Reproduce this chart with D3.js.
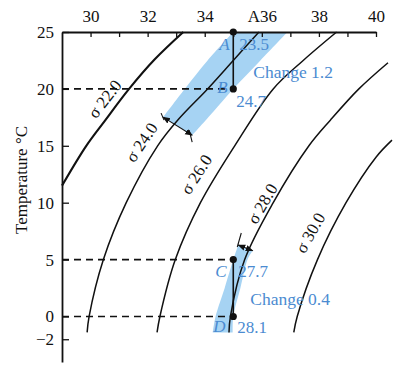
<!DOCTYPE html>
<html lang="en">
<head>
<meta charset="UTF-8">
<title>T-S diagram</title>
<script src="https://cdn.jsdelivr.net/npm/d3@7"></script>
<style>
  body { margin: 0; background: #fff; }
  svg text { font-family: "Liberation Serif", "Times New Roman", "DejaVu Serif", serif; }
</style>
</head>
<body>
<svg id="chart" width="401" height="370" font-family="Liberation Serif, serif"></svg>
<script>
// isopycnals, salinity at each temperature
var sig22S = [29.0, 29.85, 30.5, 31.35, 32.25, 33.25];
var sig22T = [11.5, 15, 17.2, 20, 22.6, 25];
var sig24S = [29.88, 29.95, 30.45, 31.25, 32.35, 33.05, 34.1, 35.0, 35.9];
var sig24T = [-1.4, 0, 5, 10, 15, 17.25, 20, 22.5, 25];
var sig26S = [32.33, 32.43, 32.97, 33.85, 35.05, 36.4, 37.45, 38.62];
var sig26T = [-1.4, 0, 5, 10, 15, 20, 22.5, 25];
var sig28S = [34.85, 34.9, 35.4, 36.4, 37.65, 38.4, 39.4, 40.42];
var sig28T = [-1.4, 0, 5, 10, 15, 17.25, 20, 22.3];
var sig30S = [37.12, 37.24, 37.95, 38.95, 40.0, 40.56];
var sig30T = [-1.4, 0, 5, 10, 14, 15.5];
var sigNames = ["σ 22.0", "σ 24.0", "σ 26.0", "σ 28.0", "σ 30.0"];

// shaded bands between the isopycnals of the two water pairs
var s235S = [32.54, 33.3, 34.1, 35.0];
var s235T = [17.52, 20, 22.5, 25];
var s247S = [33.56, 34.3, 35.0, 35.95, 36.9];
var s247T = [15.93, 18, 20, 22.5, 25];
var s277S = [34.28, 34.38, 34.7, 35.0, 35.175];
var s277T = [-1.4, 0, 2.5, 5, 6.28];
var s281S = [34.98, 35.0, 35.25, 35.5, 35.68];
var s281T = [-1.4, 0, 2.5, 5, 5.78];

// water samples
var ptNames = ["A", "B", "C", "D"];
var ptS = [35, 35, 35, 35];
var ptT = [25, 20, 5, 0];
var ptSigma = ["23.5", "24.7", "27.7", "28.1"];
var changeText = ["Change 1.2", "Change 0.4"];

// width markers across the bands
var dimAB = [[32.54, 17.52], [33.56, 15.93]];
var dimCD = [[35.175, 6.28], [35.68, 5.78]];

// axes
var salTicks = [30, 31, 32, 33, 34, 35, 36, 37, 38, 39, 40];
var salLabelVals = [30, 32, 34, 36, 38, 40];
var salLabelText = ["30", "32", "34", "A36", "38", "40"];
var tempTicks = [25, 20, 15, 10, 5, 0, -2];

var zip = function (a, b) { return a.map(function (v, i) { return [v, b[i]]; }); };
var serif = "Liberation Serif, Times New Roman, serif";

var svg = d3.select("#chart");
svg.append("rect").attr("width", 401).attr("height", 370).attr("fill", "#fff");

var x = d3.scaleLinear().domain([29, 40]).range([62, 376]);
var y = d3.scaleLinear().domain([-4, 25]).range([362, 32]);

var line = d3.line()
    .x(function (d) { return x(d[0]); })
    .y(function (d) { return y(d[1]); })
    .curve(d3.curveCatmullRom.alpha(0.5));

function bandPath(left, right) {
    return line(left) + line(right.slice().reverse()).replace(/^M/, "L") + "Z";
}

var blue = "#4b8bd1";
var bandFill = "#a6d3f3";

// bands
svg.append("path").attr("d", bandPath(zip(s235S, s235T), zip(s247S, s247T))).attr("fill", bandFill);
svg.append("path").attr("d", bandPath(zip(s277S, s277T), zip(s281S, s281T))).attr("fill", bandFill);

// dashed guides from the axis to B, C, D
var guides = [1, 2, 3];
svg.selectAll(".guide").data(guides).enter().append("line")
    .attr("x1", x(29)).attr("x2", function (i) { return x(ptS[i]); })
    .attr("y1", function (i) { return y(ptT[i]); }).attr("y2", function (i) { return y(ptT[i]); })
    .attr("stroke", "#111").attr("stroke-width", 1.6).attr("stroke-dasharray", "7,5");

// isopycnals
var curves = [zip(sig22S, sig22T), zip(sig24S, sig24T), zip(sig26S, sig26T), zip(sig28S, sig28T), zip(sig30S, sig30T)];
svg.selectAll(".iso").data(curves).enter().append("path")
    .attr("d", line).attr("fill", "none").attr("stroke", "#111")
    .attr("stroke-width", function (d, i) { return i === 0 ? 2.1 : 1.5; });

// labels along the curves
var labelAt = [[30.68, 18.76, -52], [31.98, 14.98, -56], [33.9, 12.17, -57], [36.22, 9.62, -60], [37.9, 7.07, -61]];
svg.selectAll(".isoLab").data(sigNames).enter().append("text")
    .attr("transform", function (d, i) {
        return "translate(" + x(labelAt[i][0]) + "," + y(labelAt[i][1]) + ") rotate(" + labelAt[i][2] + ")";
    })
    .attr("text-anchor", "middle").attr("dy", "-0.05em")
    .attr("font-family", serif).attr("font-size", 17).attr("fill", "#111")
    .text(function (d) { return d; });

// A-B and C-D
svg.append("line").attr("x1", x(ptS[0])).attr("y1", y(ptT[0])).attr("x2", x(ptS[1])).attr("y2", y(ptT[1]))
    .attr("stroke", "#111").attr("stroke-width", 1.6);
svg.append("line").attr("x1", x(ptS[2])).attr("y1", y(ptT[2])).attr("x2", x(ptS[3])).attr("y2", y(ptT[3]))
    .attr("stroke", "#111").attr("stroke-width", 1.6);

// arrows across bands
svg.append("defs").append("marker")
    .attr("id", "head").attr("viewBox", "0 0 10 10").attr("refX", 9).attr("refY", 5)
    .attr("markerWidth", 7).attr("markerHeight", 7).attr("orient", "auto-start-reverse")
    .append("path").attr("d", "M0,1L10,5L0,9Z").attr("fill", "#111");
[dimAB, dimCD].forEach(function (dm) {
    svg.append("line")
        .attr("x1", x(dm[0][0])).attr("y1", y(dm[0][1])).attr("x2", x(dm[1][0])).attr("y2", y(dm[1][1]))
        .attr("stroke", "#111").attr("stroke-width", 1.1)
        .attr("marker-start", "url(#head)").attr("marker-end", "url(#head)");
});
// short extension ticks at the ends of the markers
svg.append("line").attr("x1", x(dimAB[1][0]) - 3).attr("y1", y(dimAB[1][1]) - 5)
    .attr("x2", x(dimAB[1][0])).attr("y2", y(dimAB[1][1]) + 7).attr("stroke", "#111").attr("stroke-width", 1.1);
svg.append("line").attr("x1", x(dimAB[0][0]) - 2).attr("y1", y(dimAB[0][1]) - 4)
    .attr("x2", x(dimAB[0][0]) + 1).attr("y2", y(dimAB[0][1]) + 3).attr("stroke", "#111").attr("stroke-width", 1.1);
svg.append("line").attr("x1", x(dimCD[0][0]) + 3).attr("y1", y(dimCD[0][1]) - 12)
    .attr("x2", x(dimCD[0][0]) - 1).attr("y2", y(dimCD[0][1]) + 2).attr("stroke", "#111").attr("stroke-width", 1.1);

// points
svg.selectAll(".pt").data(ptNames).enter().append("circle")
    .attr("cx", function (d, i) { return x(ptS[i]); })
    .attr("cy", function (d, i) { return y(ptT[i]); })
    .attr("r", 3.6).attr("fill", "#111");

// blue annotations
var letterOff = [[-14, 18], [-16, 4], [-18, 17], [-20, 16]];
var valueOff = [[6, 18], [3, 18], [5, 17], [4, 17]];
svg.selectAll(".ptLab").data(ptNames).enter().append("text")
    .attr("x", function (d, i) { return x(ptS[i]) + letterOff[i][0]; })
    .attr("y", function (d, i) { return y(ptT[i]) + letterOff[i][1]; })
    .attr("font-family", serif).attr("font-size", 17).attr("font-style", "italic").attr("fill", blue)
    .text(function (d) { return d; });
svg.selectAll(".ptVal").data(ptSigma).enter().append("text")
    .attr("x", function (d, i) { return x(ptS[i]) + valueOff[i][0]; })
    .attr("y", function (d, i) { return y(ptT[i]) + valueOff[i][1]; })
    .attr("font-family", serif).attr("font-size", 17).attr("fill", blue)
    .text(function (d) { return d; });
var changeAt = [1, 3];
svg.selectAll(".chg").data(changeText).enter().append("text")
    .attr("x", function (d, i) { return x(ptS[changeAt[i]]) + (i === 0 ? 20 : 17); })
    .attr("y", function (d, i) { return y(ptT[changeAt[i]]) - 11; })
    .attr("font-family", serif).attr("font-size", 17.5).attr("fill", blue)
    .text(function (d) { return d; });

// axes
var topAxis = d3.axisTop(x).tickValues(salTicks).tickSizeInner(-5).tickSizeOuter(0).tickPadding(10)
    .tickFormat(function (v) { var k = salLabelVals.indexOf(v); return k < 0 ? "" : salLabelText[k]; });
var gTop = svg.append("g").attr("transform", "translate(0," + y(25) + ")").call(topAxis);
var leftAxis = d3.axisLeft(y).tickValues(tempTicks).tickSizeInner(-7).tickSizeOuter(0).tickPadding(8);
var gLeft = svg.append("g").attr("transform", "translate(" + x(29) + ",0)").call(leftAxis);
[gTop, gLeft].forEach(function (g) {
    g.attr("font-family", serif);
    g.select(".domain").attr("stroke", "#111").attr("stroke-width", 1.8);
    g.selectAll(".tick line").attr("stroke", "#111").attr("stroke-width", 1.3);
    g.selectAll(".tick text").attr("font-family", serif).attr("font-size", 17).attr("fill", "#111");
});

svg.append("text")
    .attr("transform", "translate(27,180) rotate(-90)")
    .attr("text-anchor", "middle").attr("font-family", serif).attr("font-size", 17).attr("fill", "#111")
    .text("Temperature °C");
</script>
</body>
</html>
